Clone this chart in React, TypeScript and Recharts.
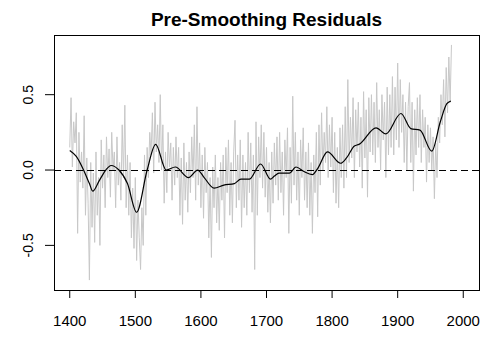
import React from 'react';
import { LineChart, Line, XAxis, YAxis, ReferenceLine, ReferenceArea } from 'recharts';

// raw residuals, every 2nd year from 1400 to 1982
const RAW_START = 1400;
const rawValues = [
    0.15, 0.48, 0.02, 0.32, 0.18, 0.38, -0.42, 0.25, -0.08, 0.12,
    -0.12, 0.36, -0.3, 0.08, -0.22, -0.73, 0.05, -0.38, -0.02, -0.48,
    0.12, -0.3, -0.05, -0.5, 0.2, -0.12, 0.1, -0.25, 0.22, -0.05,
    0.14, -0.18, 0.25, 0.0, 0.12, -0.25, 0.22, -0.1, 0.05, -0.2,
    0.3, -0.05, 0.43, -0.25, 0.1, -0.3, 0.05, -0.45, -0.12, -0.52,
    -0.05, -0.6, -0.2, -0.45, -0.66, -0.25, -0.5, 0.1, -0.3, 0.15,
    -0.05, 0.25, 0.1, 0.38, -0.02, 0.45, 0.12, 0.3, 0.05, 0.5,
    0.0, 0.3, -0.22, 0.12, -0.15, 0.25, 0.02, 0.18, -0.2, 0.15,
    -0.1, 0.22, -0.05, 0.15, -0.3, 0.08, -0.36, 0.18, -0.2, 0.05,
    -0.28, 0.12, -0.15, 0.22, -0.05, 0.3, -0.2, 0.42, -0.1, 0.18,
    -0.25, 0.1, -0.32, 0.15, -0.15, 0.05, -0.45, -0.05, -0.58, 0.02,
    -0.25, 0.1, -0.35, -0.05, -0.4, 0.05, -0.2, 0.1, -0.45, 0.15,
    -0.15, 0.2, -0.3, 0.05, -0.35, 0.12, 0.33, -0.25, 0.1, -0.2,
    0.2, -0.38, 0.1, -0.25, 0.05, -0.3, 0.25, -0.15, 0.18, -0.28,
    0.1, -0.66, 0.32, -0.3, 0.22, -0.05, 0.3, -0.12, 0.25, -0.18,
    0.15, -0.28, 0.05, -0.35, 0.12, -0.22, 0.18, -0.1, 0.22, -0.2,
    0.25, -0.15, 0.12, -0.3, 0.2, -0.05, 0.28, -0.42, 0.15, -0.22,
    0.49, -0.1, 0.25, -0.2, 0.12, -0.3, 0.2, -0.05, 0.28, -0.2,
    0.12, -0.25, 0.18, -0.3, 0.05, -0.42, 0.1, -0.15, 0.25, -0.31,
    0.3, -0.1, 0.38, 0.0, 0.25, 0.05, 0.42, -0.05, 0.3, 0.02,
    0.35, -0.15, 0.25, -0.22, 0.15, -0.25, 0.28, -0.05, 0.3, -0.12,
    0.42, -0.05, 0.6, 0.05, 0.35, 0.08, 0.48, -0.05, 0.4, 0.12,
    0.45, 0.02, 0.35, -0.12, 0.52, 0.08, 0.4, -0.18, 0.48, 0.12,
    0.5, 0.1, 0.45, 0.05, 0.58, 0.15, 0.4, 0.0, 0.5, 0.2,
    0.45, -0.05, 0.55, 0.1, 0.5, 0.15, 0.62, 0.1, 0.55, 0.2,
    0.71, 0.15, 0.6, 0.25, 0.5, 0.05, 0.45, 0.0, 0.42, 0.58,
    0.05, 0.45, -0.14, 0.4, 0.1, 0.48, 0.15, 0.5, 0.05, 0.4,
    0.15, 0.35, -0.08, 0.3, 0.05, 0.28, 0.0, 0.22, -0.19, 0.18,
    -0.05, 0.35, 0.18, 0.5, 0.3, 0.6, 0.22, 0.68, 0.38, 0.75,
    0.45, 0.83,
];

// smoothed curve
const smoothYears = [1400, 1410, 1420, 1430, 1435, 1445, 1455, 1463, 1475, 1488, 1502, 1518, 1531, 1547, 1561, 1581, 1595, 1605, 1620, 1635, 1651, 1661, 1674, 1691, 1706, 1712, 1719, 1735, 1745, 1757, 1770, 1778, 1793, 1813, 1822, 1834, 1841, 1867, 1882, 1905, 1920, 1934, 1952, 1965, 1975, 1981];
const smoothValues = [0.13, 0.09, 0.01, -0.09, -0.14, -0.07, 0.0, 0.03, 0.0, -0.09, -0.28, 0.0, 0.17, 0.0, 0.02, -0.05, 0.0, -0.05, -0.12, -0.10, -0.09, -0.06, -0.06, 0.04, -0.06, -0.04, -0.02, -0.02, 0.02, -0.01, -0.03, 0.01, 0.12, 0.045, 0.08, 0.16, 0.17, 0.28, 0.24, 0.375, 0.275, 0.265, 0.125, 0.32, 0.44, 0.457];

const xTicks = [1400, 1500, 1600, 1700, 1800, 1900, 2000];
const yTicks = [-0.5, 0.0, 0.5];

const X_DOMAIN = [1376, 2024];
const Y_DOMAIN = [-0.796, 0.896];

const rawData = rawValues.map((v, i) => ({ year: RAW_START + i * 2, raw: v }));
const smoothData = smoothYears.map((y, i) => ({ year: y, smooth: smoothValues[i] }));

const FONT = '"Liberation Sans", Arial, sans-serif';

const XTick = ({ x, payload }: any) => (
    <text x={x} y={326} textAnchor="middle" fontFamily={FONT} fontSize={15} fill="#000">
        {payload.value}
    </text>
);

const YTick = ({ y, payload }: any) => (
    <text x={33} y={y} transform={`rotate(-90 33 ${y})`} textAnchor="middle" fontFamily={FONT} fontSize={14} fill="#000">
        {Number(payload.value).toFixed(1)}
    </text>
);

export default function App() {
    return (
        <div style={{ position: 'absolute', left: 0, top: 0, width: 495, height: 344, background: '#fff' }}>
            <div style={{ position: 'absolute', left: 0, width: 533, top: 10, textAlign: 'center', fontFamily: FONT, fontWeight: 'bold', fontSize: 19, lineHeight: '19px' }}>
                Pre-Smoothing Residuals
            </div>
            <LineChart width={495} height={344} margin={{ top: 35, right: 16, left: 0, bottom: 0 }}>
                <XAxis
                    dataKey="year"
                    type="number"
                    domain={X_DOMAIN}
                    ticks={xTicks}
                    allowDataOverflow
                    height={54}
                    axisLine={false}
                    tickLine={{ stroke: '#000' }}
                    tickSize={8}
                    tick={<XTick />}
                />
                <YAxis
                    type="number"
                    domain={Y_DOMAIN}
                    ticks={yTicks}
                    allowDataOverflow
                    width={54}
                    axisLine={false}
                    tickLine={{ stroke: '#000' }}
                    tickSize={9}
                    tick={<YTick />}
                />
                <Line data={rawData} dataKey="raw" type="linear" stroke="#c8c8c8" strokeWidth={1} dot={false} isAnimationActive={false} />
                <ReferenceLine y={0} stroke="#000" strokeDasharray="7 4" shapeRendering="crispEdges" />
                <Line data={smoothData} dataKey="smooth" type="monotone" stroke="#000" strokeWidth={1.2} dot={false} isAnimationActive={false} />
                <ReferenceArea x1={X_DOMAIN[0]} x2={X_DOMAIN[1]} y1={Y_DOMAIN[0]} y2={Y_DOMAIN[1]} fill="none" stroke="#000" strokeWidth={1} shapeRendering="crispEdges" />
            </LineChart>
        </div>
    );
}
